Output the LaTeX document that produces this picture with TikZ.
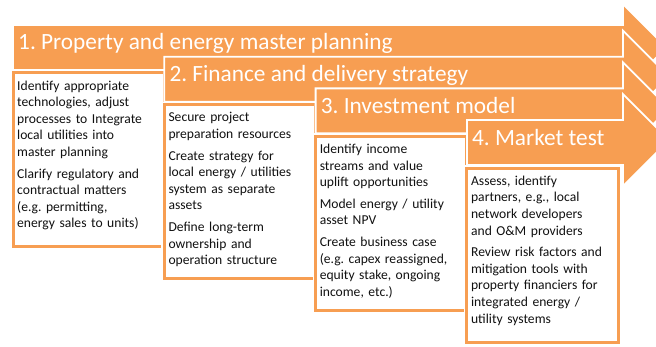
\documentclass[tikz,border=0pt]{standalone}
\usepackage{fontspec}
\setmainfont{Carlito}
\usetikzlibrary{positioning}
\definecolor{Tangerine}{HTML}{F79E52}
\definecolor{Ink}{HTML}{111111}
\frenchspacing

\begin{document}
\begin{tikzpicture}[
  x=1pt, y=-1pt,
  band/.style={fill=Tangerine, draw=white, line width=1.8pt, line join=miter},
  heading/.style={anchor=base west, inner sep=0pt, text=white, font=\fontsize{23.3}{27}\selectfont},
  card/.style={preaction={draw=white, line width=6pt}, draw=Tangerine, fill=white, line width=3pt,
    minimum width=151.3pt, minimum height=174pt, anchor=north west, inner sep=0pt, outer sep=0pt},
  note/.style={below right=5pt and 4pt, inner sep=0pt, align=left, text width=146pt, text height=12pt,
    text=Ink, font=\fontsize{13.6}{16.6}\selectfont}
]
\useasboundingbox (0,0) rectangle (656,347);
\clip (0,0) rectangle (656,347);

% stage 1
\draw[band] (13,25) -- (623,25) -- (623,4) -- (666.5,47.5) -- (623,91) -- (623,70) -- (13,70) -- cycle;
\node[heading] (head1) at (18,50) {1. Property and energy master planning};
\node[card] (box1) at (13,73) {};
\node[note] (txt1) at (box1.north west) {Identify appropriate\\technologies, adjust\\processes to Integrate\\local utilities into\\master planning\\[5pt]Clarify regulatory and\\contractual matters\\(e.g. permitting,\\energy sales to units)};

% stage 2
\draw[band] (164.3,56.7) -- (623,56.7) -- (623,30.7) -- (669,76.7) -- (623,122.7) -- (623,101.7) -- (164.3,101.7) -- cycle;
\node[heading] (head2) at (169.3,81.7) {2. Finance and delivery strategy};
\node[card] (box2) at (164.3,104.7) {};
\node[note] (txt2) at (box2.north west) {Secure project\\preparation resources\\[5pt]Create strategy for\\local energy / utilities\\system as separate\\assets\\[5pt]Define long-term\\ownership and\\operation structure};

% stage 3
\draw[band] (315.6,88.4) -- (623,88.4) -- (623,62.4) -- (669,108.4) -- (623,154.4) -- (623,133.4) -- (315.6,133.4) -- cycle;
\node[heading] (head3) at (320.6,113.4) {3. Investment model};
\node[card] (box3) at (315.6,136.4) {};
\node[note] (txt3) at (box3.north west) {Identify income\\streams and value\\uplift opportunities\\[5pt]Model energy / utility\\asset NPV\\[5pt]Create business case\\(e.g. capex reassigned,\\equity stake, ongoing\\income, etc.)};

% stage 4
\draw[band] (466.9,120.1) -- (623,120.1) -- (623,94.1) -- (669,140.1) -- (623,186.1) -- (623,165.1) -- (466.9,165.1) -- cycle;
\node[heading] (head4) at (471.9,145.1) {4. Market test};
\node[card] (box4) at (466.9,168.1) {};
\node[note] (txt4) at (box4.north west) {Assess, identify\\partners, e.g., local\\network developers\\and O\&M providers\\[5pt]Review risk factors and\\mitigation tools with\\property financiers for\\integrated energy /\\utility systems};
\end{tikzpicture}
\end{document}
